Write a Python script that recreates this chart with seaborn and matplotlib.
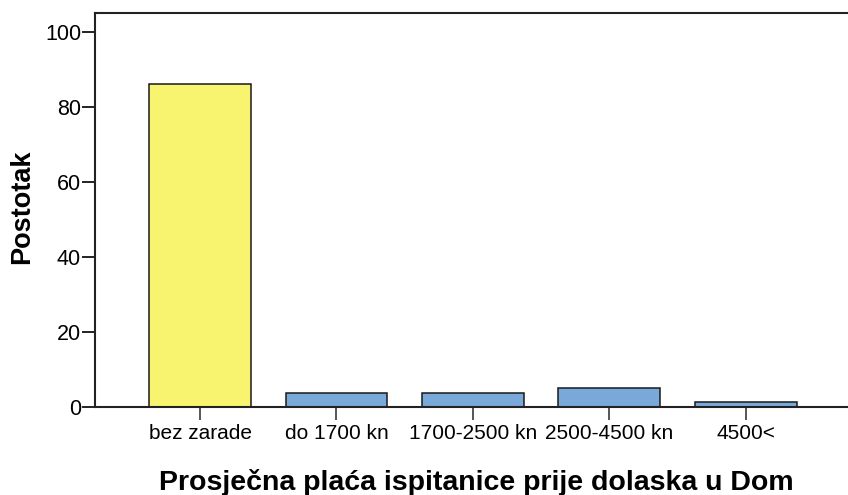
import matplotlib
matplotlib.use("Agg")
import matplotlib.pyplot as plt
import seaborn as sns
import pandas as pd

categories = ["bez zarade", "do 1700 kn", "1700-2500 kn", "2500-4500 kn", "4500<"]
percent = [86.1, 3.8, 3.8, 5.1, 1.3]
yticks = [0, 20, 40, 60, 80, 100]

sns.set_style("white")
plt.rcParams['font.family'] = ['Liberation Sans', 'DejaVu Sans']
plt.rcParams['text.color'] = 'black'
plt.rcParams['axes.labelcolor'] = 'black'
plt.rcParams['xtick.labelcolor'] = 'black'
plt.rcParams['ytick.labelcolor'] = 'black'

df = pd.DataFrame({"cat": categories, "pct": percent})
colors = ["#F8F46F", "#79A9D9", "#79A9D9", "#79A9D9", "#79A9D9"]

fig = plt.figure(figsize=(8.48, 4.95), dpi=100)
ax = fig.add_axes([0.112, 0.178, 0.888, 0.796])
sns.barplot(data=df, x="cat", y="pct", hue="cat", palette=colors, legend=False,
            saturation=1, width=0.745, edgecolor="#1a1a1a", linewidth=1.1, ax=ax)

ax.set_ylim(0, 105)
ax.set_xlim(-0.77, 4.75)
ax.set_yticks(yticks)
ax.set_yticklabels([str(t) for t in yticks], fontsize=15.5)
ax.tick_params(axis="y", direction="out", length=9.5, width=1.4, color="#222222",
               labelcolor="black", pad=0.5, left=True)
ax.tick_params(axis="x", direction="out", length=9, width=1.4, color="#555555",
               labelcolor="black", pad=3, labelsize=15, bottom=True)
for s in ["left", "top", "bottom"]:
    ax.spines[s].set_visible(True)
    ax.spines[s].set_color("#222222")
    ax.spines[s].set_linewidth(1.5)
ax.spines["right"].set_visible(False)

ax.set_ylabel("Postotak", fontsize=19.5, fontweight="bold", color="black")
ax.set_xlabel("Prosječna plaća ispitanice prije dolaska u Dom", fontsize=20.5,
              fontweight="bold", color="black")
ax.xaxis.set_label_coords(0.506, -0.158)
ax.yaxis.set_label_coords(-0.08, 0.508)

fig.savefig("out.png", dpi=100)
